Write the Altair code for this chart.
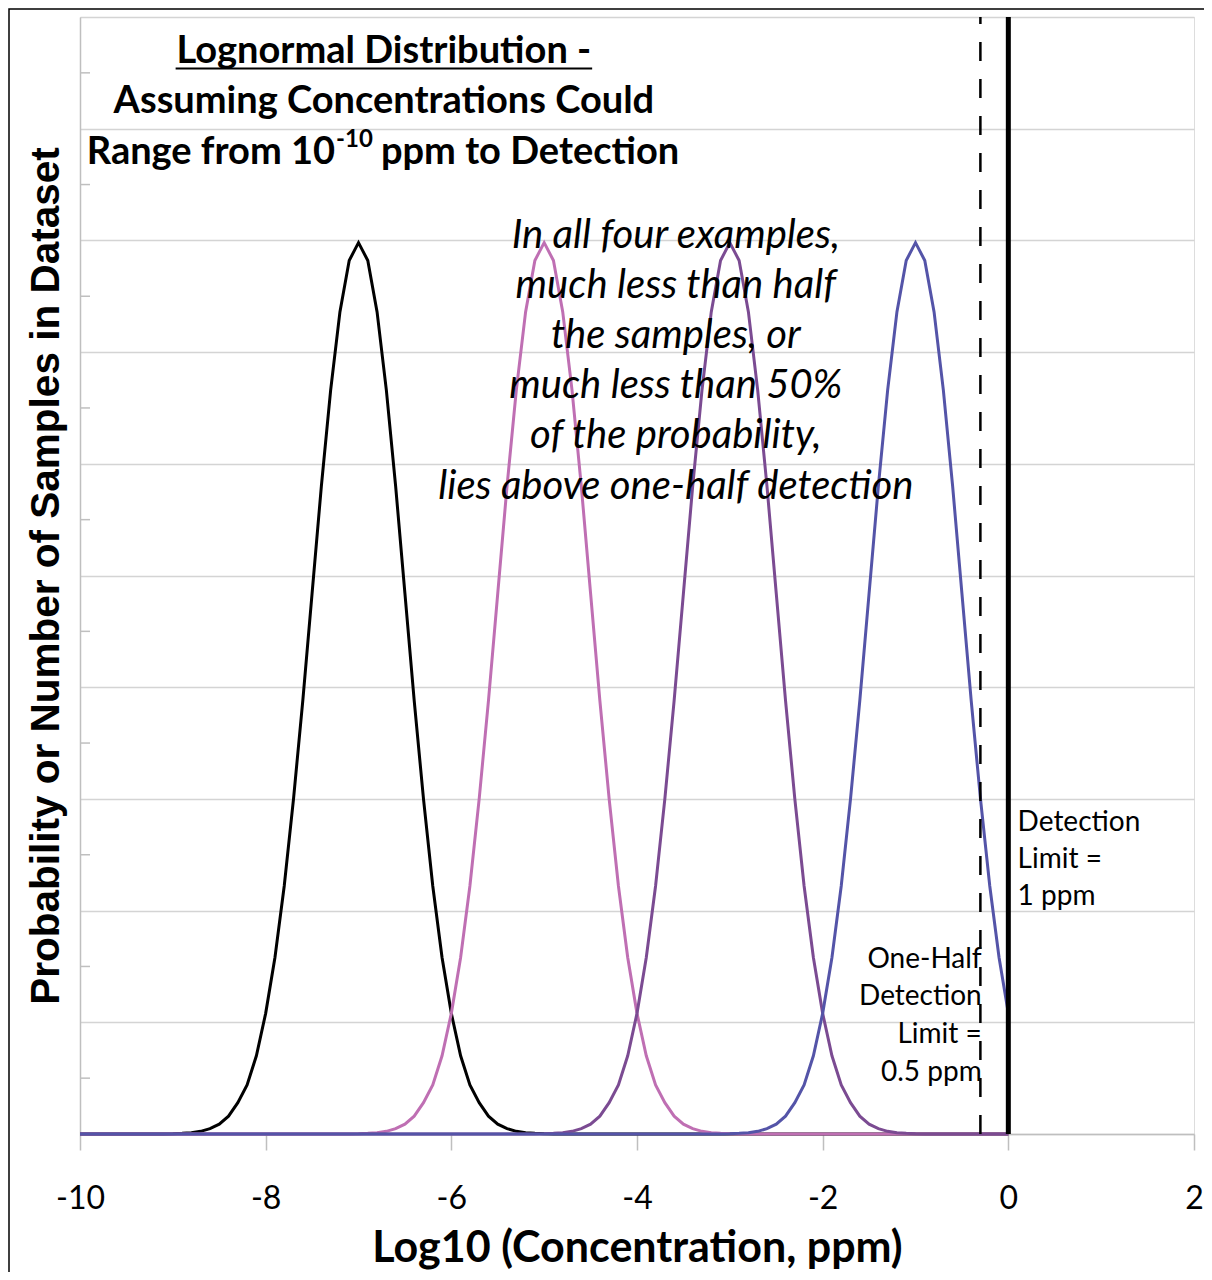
import altair as alt
import pandas as pd

# ---- data ----
# x grid of the plotted series (log10 ppm)
x_start = -10.0
x_stop = 0.0
x_step = 0.1
# centres of the four curves
curve_names = ["black", "pink", "purple", "blue"]
curve_centers = [-7.0, -5.0, -3.0, -1.0]
curve_colors = ["#000000", "#bf6fb3", "#7b4b92", "#5454a8"]
# curve height read at offsets 0.0, 0.1, ... 2.0 from the centre (symmetric)
shape_values = [0.399, 0.391, 0.368, 0.333, 0.290, 0.242, 0.194, 0.150,
                0.111, 0.079, 0.054, 0.035, 0.022, 0.014, 0.008, 0.0044,
                0.0024, 0.0012, 0.0006, 0.0003, 0.0001]

x_ticks = [-10, -8, -6, -4, -2, 0, 2]
y_grid = [0, 0.05, 0.10, 0.15, 0.20, 0.25, 0.30, 0.35, 0.40, 0.45, 0.50]
y_minor = [0.025, 0.075, 0.125, 0.175, 0.225, 0.275, 0.325, 0.375, 0.425, 0.475]

detection_limit = 0.0
half_detection = -0.30103

# annotation texts
title_lines = ["Lognormal Distribution -", "Assuming Concentrations Could"]
title_x = [-6.727, -6.727]
title_y = [0.4843, 0.4620]
range_parts = ["Range from 10", "-10", "ppm to Detection"]
range_x = [-7.2523, -7.2416, -6.7586]
range_y = [0.4391, 0.4448, 0.4391]
underline_x = [-8.970, -4.483]
underline_y = 0.4770

italic_lines = ["In all four examples,", "much less than half", "the samples, or",
                "much less than 50%", "of the probability,", "lies above one-half detection"]
italic_x = -3.582
italic_y = [0.4020, 0.3796, 0.3572, 0.3348, 0.3124, 0.2896]

dl_lines = ["Detection", "Limit =", "1 ppm"]
dl_x = 0.100
dl_y = [0.1392, 0.1226, 0.1061]
half_lines = ["One-Half", "Detection", "Limit =", "0.5 ppm"]
half_x = -0.287
half_y = [0.0779, 0.0613, 0.0443, 0.0273]

# ---- build tables ----
n = int(round((x_stop - x_start) / x_step)) + 1
xs = [round(x_start + i * x_step, 1) for i in range(n)]
rows = []
for name, c in zip(curve_names, curve_centers):
    for x in xs:
        k = int(round(abs(x - c) / x_step))
        y = shape_values[k] if k < len(shape_values) else 0.0
        rows.append({"series": name, "x": x, "y": y})
curves = pd.DataFrame(rows)

FONT = "Lato"
xscale = alt.Scale(domain=[-10, 2], nice=False, zero=False)
yscale = alt.Scale(domain=[0, 0.5], nice=False)

base = alt.Chart(curves)

x_axis = alt.Axis(values=x_ticks, grid=False, labelFont=FONT, labelFontSize=32,
                  labelExpr="'' + datum.value", labelFlush=False,
                  labelColor="black", tickColor="#bfbfbf", tickSize=16, tickWidth=1.5,
                  domainColor="#bfbfbf", domainWidth=1.5, labelPadding=33,
                  title="Log10 (Concentration, ppm)", titleFont=FONT, titleFontSize=43,
                  titleFontWeight="bold", titleColor="black", titlePadding=13)
y_axis = alt.Axis(values=y_grid, grid=True, gridColor="#d4d4d4", gridWidth=1.5,
                  labels=False, ticks=False, domainColor="#bfbfbf", domainWidth=1.5,
                  title="Probability or Number of Samples in Dataset",
                  titleFont="Liberation Sans", titleFontSize=40.5, titleFontWeight="bold",
                  titleColor="black", titlePadding=13)

layers = []
# minor ticks on the left axis (inside)
minor = alt.Chart(pd.DataFrame({"y": y_minor})).mark_rule(color="#bfbfbf", strokeWidth=1.5).encode(
    y=alt.Y("y:Q", scale=yscale, axis=y_axis),
    x=alt.value(0), x2=alt.value(10))
layers.append(minor)

for name, col in zip(curve_names, curve_colors):
    layers.append(
        base.transform_filter(alt.datum.series == name).mark_line(
            color=col, strokeWidth=3, strokeJoin="miter").encode(
            x=alt.X("x:Q", scale=xscale, axis=x_axis),
            y=alt.Y("y:Q", scale=yscale, axis=y_axis))
    )

vlines = pd.DataFrame({"x": [detection_limit, half_detection], "y0": [0, 0], "y1": [0.5, 0.5],
                       "kind": ["solid", "dashed"]})
solid = alt.Chart(vlines).transform_filter(alt.datum.kind == "solid").mark_rule(
    color="black", strokeWidth=5).encode(
    x=alt.X("x:Q", scale=xscale), y=alt.Y("y0:Q", scale=yscale), y2="y1:Q")
dashed = alt.Chart(vlines).transform_filter(alt.datum.kind == "dashed").mark_rule(
    color="black", strokeWidth=2.5, strokeDash=[19, 18]).encode(
    x=alt.X("x:Q", scale=xscale), y=alt.Y("y0:Q", scale=yscale), y2="y1:Q")
layers += [dashed, solid]

def text_layer(texts, xv, yv, **kw):
    df = pd.DataFrame({"t": texts, "x": xv, "y": yv})
    return alt.Chart(df).mark_text(font=FONT, color="black", baseline="middle", **kw).encode(
        x=alt.X("x:Q", scale=xscale), y=alt.Y("y:Q", scale=yscale), text="t:N")

layers.append(text_layer(title_lines, title_x, title_y, fontSize=38, fontWeight="bold", align="center"))
layers.append(text_layer(range_parts[:1], range_x[:1], range_y[:1], fontSize=38, fontWeight="bold", align="right"))
layers.append(text_layer(range_parts[1:2], range_x[1:2], range_y[1:2], fontSize=24, fontWeight="bold", align="left"))
layers.append(text_layer(range_parts[2:], range_x[2:], range_y[2:], fontSize=38, fontWeight="bold", align="left"))
ul = pd.DataFrame({"x": [underline_x[0]], "x2": [underline_x[1]], "y": [underline_y]})
layers.append(alt.Chart(ul).mark_rule(color="black", strokeWidth=2).encode(
    x=alt.X("x:Q", scale=xscale), x2="x2:Q", y=alt.Y("y:Q", scale=yscale)))
layers.append(text_layer(italic_lines, [italic_x] * len(italic_lines), italic_y,
                         fontSize=40, fontStyle="italic", align="center"))
layers.append(text_layer(dl_lines, [dl_x] * len(dl_lines), dl_y, fontSize=28, align="left"))
layers.append(text_layer(half_lines, [half_x] * len(half_lines), half_y, fontSize=28, align="right"))

# outer chart border
border = alt.Chart(pd.DataFrame({"a": [0]})).mark_rect(
    fill=None, stroke="black", strokeWidth=1.5).encode(
    x=alt.value(-71), x2=alt.value(1140), y=alt.value(-8), y2=alt.value(1300))
layers.append(border)

chart = alt.layer(*layers).properties(
    width=1114, height=1117,
    autosize=alt.AutoSizeParams(type="none"),
    padding={"left": 72, "top": 9, "right": 10, "bottom": 138},
).configure_view(stroke=None).configure(background="white")

chart.save("out.html", embed_options={"renderer": "svg", "actions": False})
